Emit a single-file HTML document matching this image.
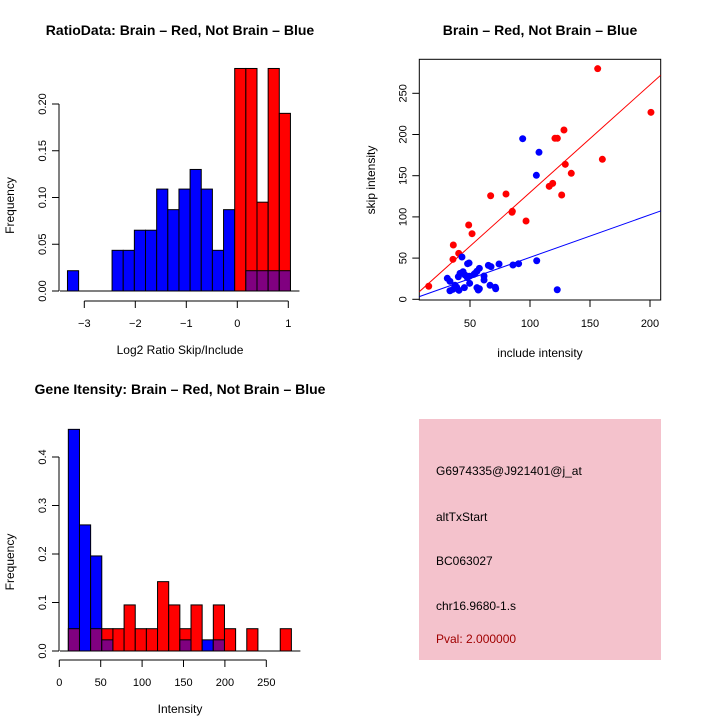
<!DOCTYPE html>
<html><head><meta charset="utf-8"><style>
body{margin:0;background:#fff}
svg{display:block;font-family:"Liberation Sans",sans-serif}
</style></head><body>
<svg id="c" width="720" height="720" viewBox="0 0 720 720">
<rect width="720" height="720" fill="#fff"/>
<g id="g1"></g>
<g id="g2"></g>
<g id="g3"></g>
<g>
<rect x="419" y="419" width="242" height="241" fill="#f4c2cc"/>
<text x="436" y="475" font-size="12">G6974335@J921401@j_at</text>
<text x="436" y="521" font-size="12">altTxStart</text>
<text x="436" y="565" font-size="12">BC063027</text>
<text x="436" y="610" font-size="12">chr16.9680-1.s</text>
<text x="436" y="643" font-size="12" fill="#a00000">Pval: 2.000000</text>
</g>
</svg>
<script>
// ---- Ratio histogram data ----
const ratioBreakStart = -3.33;
const ratioBinWidth = 0.2186;
const ratioRed  = [0,0,0,0,0,0,0,0,0,0,0,0,0,0,0,0.238,0.238,0.095,0.238,0.190];
const ratioBlue = [0.0217,0,0,0,0.0435,0.0435,0.065,0.065,0.109,0.087,0.109,0.130,0.109,0.0435,0.087,0,0.0217,0.0217,0.0217,0.0217];
const ratioYTicks = [0,0.05,0.10,0.15,0.20];
const ratioYTickLabels = ["0.00","0.05","0.10","0.15","0.20"];
const ratioXTicks = [-3,-2,-1,0,1];
const ratioXTickLabels = ["\u22123","\u22122","\u22121","0","1"];
// ---- Scatter data ----
const redX = [15.6,35.8,36.1,40.6,48.9,51.7,67.2,80,85,85.3,96.7,116,118.9,120.8,122.8,126.4,128.3,129.4,134.4,156.4,160.3,200.8];
const redY = [15.8,48.5,65.9,55.8,90.2,79.6,125.7,127.8,105.6,106.8,95,137.1,140.7,195.4,195.4,126.6,205.5,163.8,152.9,279.9,169.9,226.9];
const blueX = [93.9,107.5,105.3,105.6,122.7,85.8,90.5,74.2,65.3,67.5,43.3,48,49.2,57.8,55.8,54.2,61.7,61.7,31.1,33.3,37.5,35.8,33.3,40.8,38.9,45.3,40.3,41.7,44.2,45.8,47.8,49.4,49.7,53.3,55.8,56.9,57.8,66.7,71.1,71.4,37.2];
const blueY = [194.9,178.4,150.5,46.8,11.6,41.6,43.2,42.8,41.2,39.6,51.3,43.2,44,37.6,34,31.5,28.3,23.4,25.5,21.8,17,12.1,10.4,10.9,14.6,14.1,27.4,31.5,33.5,29.5,26.2,27.9,19.4,30.3,14.1,11.3,12.8,17,14.6,12.8,13.6];
const redFit = [-0.9, 1.306];
const blueFit = [-0.8, 0.517];
const scXTicks = [50,100,150,200];
const scYTicks = [0,50,100,150,200,250];
// ---- Gene intensity histogram data ----
const geneBreakStart = 10.9;
const geneBinWidth = 13.47;
const geneRed  = [0.046,0,0.046,0.046,0.046,0.095,0.046,0.046,0.143,0.095,0.046,0.095,0,0.095,0.046,0,0.046,0,0,0.046];
const geneBlue = [0.457,0.26,0.196,0.023,0,0,0,0,0,0,0.023,0,0.023,0.023,0,0,0,0,0,0];
const geneYTicks = [0,0.1,0.2,0.3,0.4];
const geneYTickLabels = ["0.0","0.1","0.2","0.3","0.4"];
const geneXTicks = [0,50,100,150,200,250];

const NS="http://www.w3.org/2000/svg";
function mk(parent,tag,attrs,text){const e=document.createElementNS(NS,tag);for(const k in attrs)e.setAttribute(k,attrs[k]);if(text!==undefined)e.textContent=text;parent.appendChild(e);return e;}

function histogram(g,opt){
  const sx=v=>opt.x0px+(v-opt.x0)*opt.xs, sy=v=>opt.y0px-v*opt.ys;
  const n=Math.max(opt.red.length,opt.blue.length);
  for(let i=0;i<n;i++){
    const r=opt.red[i]||0,b=opt.blue[i]||0;
    const a=sx(opt.bs+i*opt.bw), w=opt.bw*opt.xs;
    const hi=Math.max(r,b), lo=Math.min(r,b);
    if(hi<=0) continue;
    let el=mk(g,'rect',{x:a,y:sy(hi),width:w,height:sy(0)-sy(hi),fill:r>=b?'#ff0000':'#0000ff',stroke:'#000','stroke-width':1});
    
    
    if(lo>0){
      el=mk(g,'rect',{x:a,y:sy(lo),width:w,height:sy(0)-sy(lo),fill:'#800080',stroke:'#000','stroke-width':1});
      
      
    }
  }
  const yt=opt.yTicks;
  let ax=mk(g,'line',{x1:opt.yAxisX,x2:opt.yAxisX,y1:sy(yt[0]),y2:sy(yt[yt.length-1]),stroke:'#000'});
  
  yt.forEach((t,i)=>{
    mk(g,'line',{x1:opt.yAxisX-7,x2:opt.yAxisX,y1:sy(t),y2:sy(t),stroke:'#000'});
    const tx=mk(g,'text',{x:0,y:0,'font-size':11,'text-anchor':'middle',transform:`translate(${opt.yAxisX-13},${sy(t)}) rotate(-90)`},opt.yLabels[i]);
    
  });
  const xt=opt.xTicks;
  ax=mk(g,'line',{x1:sx(xt[0]),x2:sx(xt[xt.length-1]),y1:opt.xAxisY,y2:opt.xAxisY,stroke:'#000'});
  
  xt.forEach((t,i)=>{
    mk(g,'line',{x1:sx(t),x2:sx(t),y1:opt.xAxisY,y2:opt.xAxisY+7,stroke:'#000'});
    const tx=mk(g,'text',{x:sx(t),y:opt.xAxisY+26,'font-size':11,'text-anchor':'middle'},opt.xLabels[i]);
    
  });
  mk(g,'line',{x1:opt.yAxisX+1,x2:opt.x0px+(opt.bs+n*opt.bw-opt.x0)*opt.xs+9,y1:sy(0),y2:sy(0),stroke:'#000'});
  let t=mk(g,'text',{x:180,y:opt.titleY,'font-size':14,'font-weight':'bold','text-anchor':'middle'},opt.title);
  
  t=mk(g,'text',{x:180,y:opt.xAxisY+53,'font-size':12,'text-anchor':'middle'},opt.xTitle);
  
  t=mk(g,'text',{x:0,y:0,'font-size':12,'text-anchor':'middle',transform:`translate(14,${(sy(0)+sy(yt[yt.length-1]))/2+8}) rotate(-90)`},'Frequency');
  
}

histogram(document.getElementById('g1'),{x0:0,x0px:237.3,xs:51,y0px:291,ys:935,bs:ratioBreakStart,bw:ratioBinWidth,
  red:ratioRed,blue:ratioBlue,yTicks:ratioYTicks,yLabels:ratioYTickLabels,xTicks:ratioXTicks,xLabels:ratioXTickLabels,
  yAxisX:59,xAxisY:301,titleY:35,title:'RatioData: Brain \u2013 Red, Not Brain \u2013 Blue',xTitle:'Log2 Ratio Skip/Include'});
histogram(document.getElementById('g3'),{x0:0,x0px:59.3,xs:0.828,y0px:651,ys:485,bs:geneBreakStart,bw:geneBinWidth,
  red:geneRed,blue:geneBlue,yTicks:geneYTicks,yLabels:geneYTickLabels,xTicks:geneXTicks,xLabels:geneXTicks.map(String),
  yAxisX:59,xAxisY:660,titleY:394,title:'Gene Itensity: Brain \u2013 Red, Not Brain \u2013 Blue',xTitle:'Intensity'});

(function(){
  const g=document.getElementById('g2');
  const sx=v=>410+v*1.2, sy=v=>299.3-v*0.824;
  const L=419.3,R=660.7,T=59.3,B=300;
  let e=mk(g,'rect',{x:L,y:T,width:R-L,height:B-T,fill:'none',stroke:'#000'});
  
  const cp=mk(g,'clipPath',{id:'cp'});mk(cp,'rect',{x:L,y:T,width:R-L,height:B-T});
  const x0=(L-410)/1.2,x1=(R-410)/1.2;
  [[redFit,'#ff0000','red-fit-line'],[blueFit,'#0000ff','blue-fit-line']].forEach(([f,c,n])=>{
    const l=mk(g,'line',{x1:sx(x0),y1:sy(f[0]+f[1]*x0),x2:sx(x1),y2:sy(f[0]+f[1]*x1),stroke:c,'clip-path':'url(#cp)'});
    
  });
  redX.forEach((v,i)=>{const p=mk(g,'circle',{cx:sx(v),cy:sy(redY[i]),r:3.5,fill:'#ff0000'});
    });
  blueX.forEach((v,i)=>{const p=mk(g,'circle',{cx:sx(v),cy:sy(blueY[i]),r:3.5,fill:'#0000ff'});
    });
  scXTicks.forEach(t=>{mk(g,'line',{x1:sx(t),x2:sx(t),y1:B,y2:B+7,stroke:'#000'});
    const tx=mk(g,'text',{x:sx(t),y:B+27,'font-size':11,'text-anchor':'middle'},String(t));
    });
  scYTicks.forEach(t=>{mk(g,'line',{x1:L-7,x2:L,y1:sy(t),y2:sy(t),stroke:'#000'});
    const tx=mk(g,'text',{x:0,y:0,'font-size':11,'text-anchor':'middle',transform:`translate(${L-13},${sy(t)}) rotate(-90)`},String(t));
    });
  let t=mk(g,'text',{x:540,y:35,'font-size':14,'font-weight':'bold','text-anchor':'middle'},'Brain \u2013 Red, Not Brain \u2013 Blue');
  
  t=mk(g,'text',{x:540,y:357,'font-size':12,'text-anchor':'middle'},'include intensity');
  
  t=mk(g,'text',{x:0,y:0,'font-size':12,'text-anchor':'middle',transform:'translate(375,180) rotate(-90)'},'skip intensity');
  
})();
</script>
</body></html>
